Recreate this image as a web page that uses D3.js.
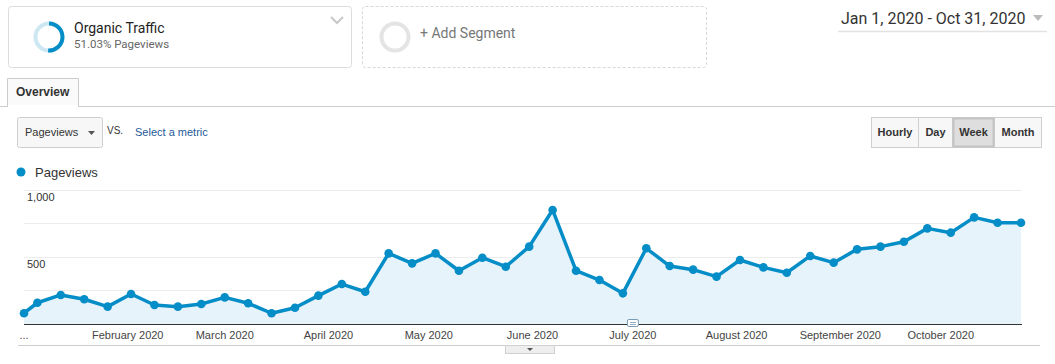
<!DOCTYPE html>
<html>
<head>
<meta charset="utf-8">
<script src="https://cdn.jsdelivr.net/npm/d3@7"></script>
<style>
  body { margin: 0; background: #fff; }
  svg { display: block; }
  .seg-title { font-family: Roboto, Arial, sans-serif; }
  .ui { font-family: Arial, "Liberation Sans", sans-serif; }
</style>
</head>
<body>
<svg id="svg1"></svg>
<script>
// weekly pageviews, organic traffic, Jan 1 - Oct 31 2020
var weeks = ["2020-01-01","2020-01-05","2020-01-12","2020-01-19","2020-01-26",
  "2020-02-02","2020-02-09","2020-02-16","2020-02-23","2020-03-01","2020-03-08",
  "2020-03-15","2020-03-22","2020-03-29","2020-04-05","2020-04-12","2020-04-19",
  "2020-04-26","2020-05-03","2020-05-10","2020-05-17","2020-05-24","2020-05-31",
  "2020-06-07","2020-06-14","2020-06-21","2020-06-28","2020-07-05","2020-07-12",
  "2020-07-19","2020-07-26","2020-08-02","2020-08-09","2020-08-16","2020-08-23",
  "2020-08-30","2020-09-06","2020-09-13","2020-09-20","2020-09-27","2020-10-04",
  "2020-10-11","2020-10-18","2020-10-25"];
var pageviews = [80, 158, 216, 184, 129, 223, 141, 129, 149, 198, 154,
  80, 121, 211, 297, 240, 525, 451, 525, 396, 493, 426, 575,
  848, 396, 327, 228, 563, 431, 404, 352, 476, 421, 381, 506,
  456, 555, 575, 612, 711, 679, 793, 753, 753];
var gridValues = [0, 250, 500, 750, 1000];
var yLabels = [500, 1000];
var monthTicks = ["2020-01-01","2020-02-01","2020-03-01","2020-04-01","2020-05-01",
  "2020-06-01","2020-07-01","2020-08-01","2020-09-01","2020-10-01"];
var intervals = ["Hourly", "Day", "Week", "Month"];

var W = 1055, H = 364;
var blue = "#058dc7";
var parse = d3.utcParse("%Y-%m-%d");
var fmtMonth = d3.utcFormat("%B %Y");

var data = weeks.map(function(w, i) { return {date: parse(w), value: pageviews[i]}; });

var svg = d3.select("#svg1").attr("width", W).attr("height", H);

// ---------- segment boxes ----------
svg.append("rect").attr("x", 8.5).attr("y", 6.5).attr("width", 343).attr("height", 61)
  .attr("rx", 3).attr("fill", "#fff").attr("stroke", "#dcdcdc");

var ring = d3.arc().innerRadius(11.5).outerRadius(15.5);
var g1 = svg.append("g").attr("transform", "translate(49,37)");
g1.append("path").attr("d", ring({startAngle: 0, endAngle: 2 * Math.PI})).attr("fill", "#cde7f3");
g1.append("path").attr("d", ring({startAngle: 0, endAngle: 2 * Math.PI * 0.5103})).attr("fill", blue);

svg.append("text").attr("class", "seg-title").attr("x", 74).attr("y", 33)
  .style("font-size", "14px").attr("fill", "#222").text("Organic Traffic");
svg.append("text").attr("class", "seg-title").attr("x", 74).attr("y", 48)
  .style("font-size", "11.5px").attr("fill", "#666").text("51.03% Pageviews");
svg.append("path").attr("d", "M331,17 L337,23 L343,17").attr("fill", "none")
  .attr("stroke", "#c8c8c8").attr("stroke-width", 2);

svg.append("rect").attr("x", 362.5).attr("y", 6.5).attr("width", 344).attr("height", 61)
  .attr("rx", 3).attr("fill", "#fff").attr("stroke", "#d8d8d8").attr("stroke-dasharray", "3,2");
svg.append("circle").attr("cx", 395).attr("cy", 37).attr("r", 13.5)
  .attr("fill", "none").attr("stroke", "#e4e4e4").attr("stroke-width", 4);
svg.append("text").attr("class", "seg-title").attr("x", 420).attr("y", 38)
  .style("font-size", "14px").attr("fill", "#777").text("+ Add Segment");

// date range
svg.append("text").attr("class", "seg-title").attr("x", 841).attr("y", 24)
  .style("font-size", "16px").attr("fill", "#333").text("Jan 1, 2020 - Oct 31, 2020");
svg.append("path").attr("d", "M1033,15 L1043,15 L1038,21 Z").attr("fill", "#bbb");
svg.append("line").attr("x1", 838).attr("x2", 1047).attr("y1", 31.5).attr("y2", 31.5)
  .attr("stroke", "#e2e2e2").attr("stroke-width", 1.5);

// ---------- tab ----------
svg.append("line").attr("x1", 0).attr("x2", W).attr("y1", 106.5).attr("y2", 106.5).attr("stroke", "#ccc");
svg.append("path").attr("d", "M7.5,107 L7.5,78.5 L78.5,78.5 L78.5,107")
  .attr("fill", "#fafafa").attr("stroke", "#ccc");
svg.append("rect").attr("x", 8).attr("y", 105).attr("width", 70).attr("height", 3).attr("fill", "#fff");
svg.append("text").attr("class", "ui").attr("x", 16).attr("y", 96)
  .style("font-size", "12px").style("font-weight", "bold").attr("fill", "#333").text("Overview");

// ---------- metric selector ----------
svg.append("rect").attr("x", 17.5).attr("y", 117.5).attr("width", 85).attr("height", 30)
  .attr("rx", 2).attr("fill", "#f7f7f7").attr("stroke", "#cfcfcf");
svg.append("text").attr("class", "ui").attr("x", 25).attr("y", 136)
  .style("font-size", "11px").attr("fill", "#333").text("Pageviews");
svg.append("path").attr("d", "M88,131 L95,131 L91.5,135 Z").attr("fill", "#555");
svg.append("text").attr("class", "ui").attr("x", 107).attr("y", 134)
  .style("font-size", "10px").attr("fill", "#333").text("VS.");
svg.append("text").attr("class", "ui").attr("x", 135).attr("y", 136)
  .style("font-size", "11px").attr("fill", "#1f5a99").text("Select a metric");

// ---------- interval buttons ----------
var btnEdges = [871.5, 918.5, 952.5, 994.5, 1041.5];
var btn = svg.append("g").attr("class", "ui");
intervals.forEach(function(name, i) {
  var x0 = btnEdges[i], x1 = btnEdges[i + 1];
  btn.append("rect").attr("x", x0).attr("y", 117.5).attr("width", x1 - x0).attr("height", 30)
    .attr("fill", name === "Week" ? "#dedede" : "#f7f7f7").attr("stroke", "#cfcfcf");
  btn.append("text").attr("x", (x0 + x1) / 2).attr("y", 136).attr("text-anchor", "middle")
    .style("font-size", "11px").style("font-weight", "bold").attr("fill", "#333").text(name);
});
btn.append("rect").attr("x", 953.5).attr("y", 118.5).attr("width", 40).attr("height", 28)
  .attr("fill", "none").attr("stroke", "#c4c4c4").attr("stroke-width", 2);

// ---------- legend ----------
svg.append("circle").attr("cx", 21).attr("cy", 172).attr("r", 4.5).attr("fill", blue);
svg.append("text").attr("class", "ui").attr("x", 35).attr("y", 177)
  .style("font-size", "13px").attr("fill", "#333").text("Pageviews");

// ---------- chart ----------
var x = d3.scaleUtc().domain([data[0].date, data[data.length - 1].date]).range([24, 1021]);
var y = d3.scaleLinear().domain([0, 1000]).range([324, 189.5]);

svg.append("g").selectAll("line").data(gridValues.slice(1)).enter().append("line")
  .attr("x1", 24).attr("x2", 1021).attr("y1", function(d) { return Math.round(y(d)) + 0.5; })
  .attr("y2", function(d) { return Math.round(y(d)) + 0.5; })
  .attr("stroke", "#ececec");

svg.append("g").selectAll("text").data(yLabels).enter().append("text")
  .attr("class", "ui").attr("x", 27).attr("y", function(d) { return y(d) + 11.5; })
  .style("font-size", "11px").attr("fill", "#333").text(d3.format(","));

var area = d3.area().x(function(d) { return x(d.date); }).y0(y(0)).y1(function(d) { return y(d.value); });
var line = d3.line().x(function(d) { return x(d.date); }).y(function(d) { return y(d.value); });

svg.append("path").datum(data).attr("d", area).attr("fill", "#e6f3fa");
svg.append("path").datum(data).attr("d", line).attr("fill", "none")
  .attr("stroke", blue).attr("stroke-width", 3.5).attr("stroke-linejoin", "round");

// baseline
svg.append("line").attr("x1", 24).attr("x2", 1022).attr("y1", 324.5).attr("y2", 324.5)
  .attr("stroke", "#333").attr("stroke-width", 1.2);

svg.append("g").selectAll("circle").data(data).enter().append("circle")
  .attr("cx", function(d) { return x(d.date); }).attr("cy", function(d) { return y(d.value); })
  .attr("r", 4.3).attr("fill", blue);

// month labels
svg.append("g").selectAll("text").data(monthTicks).enter().append("text")
  .attr("class", "ui").attr("x", function(d) { return x(parse(d)); }).attr("y", 339)
  .attr("text-anchor", "middle").style("font-size", "11px").attr("fill", "#444")
  .text(function(d, i) { return i === 0 ? "..." : fmtMonth(parse(d)); });

// annotation marker on July
var ax = x(parse("2020-07-01"));
svg.append("rect").attr("x", ax - 5.5).attr("y", 319.5).attr("width", 11).attr("height", 7)
  .attr("rx", 1.5).attr("fill", "#fff").attr("stroke", "#7a9bb5");
svg.append("path").attr("d", "M" + (ax - 3) + ",322.5 h6 M" + (ax - 3) + ",324.5 h6")
  .attr("stroke", "#7a9bb5").attr("stroke-width", 0.8);

// bottom rule and collapse handle
svg.append("line").attr("x1", 18).attr("x2", 1040).attr("y1", 345.5).attr("y2", 345.5).attr("stroke", "#ccc");
svg.append("rect").attr("x", 505.5).attr("y", 345.5).attr("width", 49).attr("height", 8)
  .attr("fill", "#eeeeee").attr("stroke", "#d0d0d0");
svg.append("path").attr("d", "M527,348 L533,348 L530,351 Z").attr("fill", "#555");
</script>
</body>
</html>
